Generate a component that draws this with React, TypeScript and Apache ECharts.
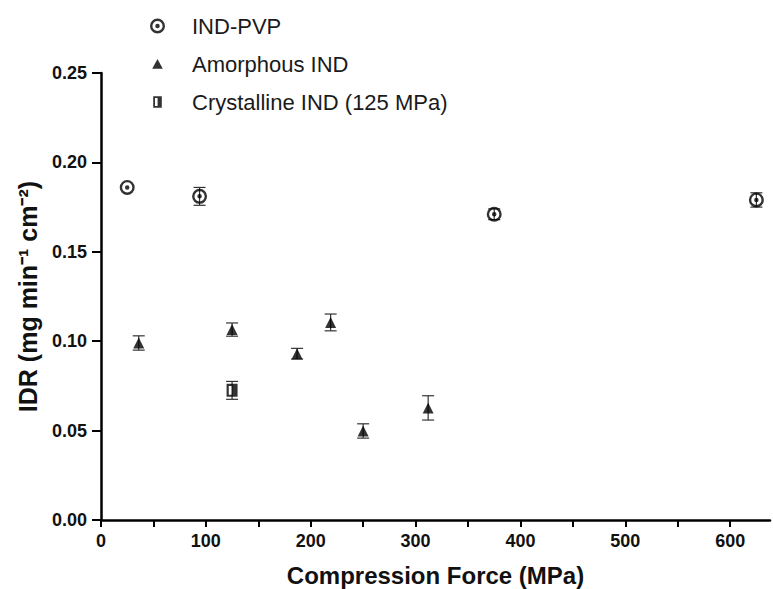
import React, { useEffect, useRef } from "react";
import * as echarts from "echarts";

const pvpX = [25, 94, 375, 625];
const pvpY = [0.186, 0.181, 0.171, 0.179];
const pvpErr = [0, 0.005, 0.003, 0.004];

const amX = [36, 125, 187, 219, 250, 312];
const amY = [0.099, 0.1065, 0.093, 0.1105, 0.0498, 0.0627];
const amErr = [0.004, 0.0037, 0.003, 0.0047, 0.004, 0.0068];

const crX = [125];
const crY = [0.0725];
const crErr = [0.005];

const xLabels = [0, 100, 200, 300, 400, 500, 600];
const xTicks = [0, 50, 100, 150, 200, 250, 300, 350, 400, 450, 500, 550, 600];

const ringDot =
  "path://M0 -10 A10 10 0 1 1 0 10 A10 10 0 1 1 0 -10 Z M0 -6.8 A6.8 6.8 0 1 0 0 6.8 A6.8 6.8 0 1 0 0 -6.8 Z M0 -3 A3 3 0 1 1 0 3 A3 3 0 1 1 0 -3 Z";
const halfSquare = "path://M0 0 H10 V12 H0 Z M2 2 V10 H5 V2 Z";
const legendTriangle = "path://M0 0 L0 0 M15 15 L15 15 M7.5 2.5 L12.8 12.3 L2.2 12.3 Z";
const legendSquare =
  "path://M0 0 L0 0 M15 15 L15 15 M3.2 1.8 H11.8 V13.2 H3.2 Z M5 3.6 V11.4 H7.6 V3.6 Z";

function errData(xs: number[], ys: number[], es: number[]) {
  return xs.map((x, i) => [x, ys[i] - es[i], ys[i] + es[i]]);
}

function errorSeries(name: string, data: number[][]) {
  return {
    type: "custom",
    name: name + "-err",
    z: 1,
    silent: true,
    renderItem: (params: any, api: any) => {
      const x = api.value(0);
      const lo = api.coord([x, api.value(1)]);
      const hi = api.coord([x, api.value(2)]);
      const hw = 6;
      if (Math.abs(hi[1] - lo[1]) < 0.5) return { type: "group", children: [] };
      const st = { stroke: "#333", lineWidth: 1.2 };
      return {
        type: "group",
        children: [
          { type: "line", shape: { x1: lo[0], y1: lo[1], x2: hi[0], y2: hi[1] }, style: st },
          { type: "line", shape: { x1: lo[0] - hw, y1: lo[1], x2: lo[0] + hw, y2: lo[1] }, style: st },
          { type: "line", shape: { x1: hi[0] - hw, y1: hi[1], x2: hi[0] + hw, y2: hi[1] }, style: st },
        ],
      };
    },
    data,
  };
}

export default function App() {
  const ref = useRef<HTMLDivElement>(null);
  useEffect(() => {
    if (!ref.current) return;
    const chart = echarts.init(ref.current, null, { renderer: "svg" });
    const font = "Liberation Sans, Arial, sans-serif";
    chart.setOption({
      animation: false,
      backgroundColor: "#fff",
      grid: {
        left: 101,
        right: 3,
        top: 73,
        bottom: 69,
        containLabel: false,
        outerBoundsMode: "none",
      },
      legend: {
        orient: "vertical",
        left: 145,
        top: 10,
        itemWidth: 15,
        itemHeight: 15,
        itemGap: 16,
        data: [
          { name: "IND-PVP", icon: ringDot },
          { name: "Amorphous IND", icon: legendTriangle },
          { name: "Crystalline IND (125 MPa)", icon: legendSquare },
        ],
        textStyle: { fontFamily: font, fontSize: 22, color: "#1a1a1a", padding: [0, 0, 0, 22] },
      },
      xAxis: {
        type: "value",
        min: 0,
        max: 638,
        interval: 100,
        name: "Compression Force (MPa)",
        nameLocation: "middle",
        nameGap: 43,
        nameTextStyle: { fontFamily: font, fontSize: 24, fontWeight: "bold", color: "#111" },
        axisLine: { show: true, onZero: false, lineStyle: { color: "#000", width: 2.5 } },
        axisTick: { show: true, customValues: xTicks, length: 7, lineStyle: { color: "#000", width: 2 } },
        axisLabel: {
          customValues: xLabels,
          fontFamily: font,
          fontSize: 18,
          fontWeight: "bold",
          color: "#111",
          margin: 12,
        },
        splitLine: { show: false },
      },
      yAxis: {
        type: "value",
        min: 0,
        max: 0.25,
        interval: 0.05,
        name: "IDR (mg min\u207B\u00B9 cm\u207B\u00B2)",
        nameLocation: "middle",
        nameGap: 61,
        nameTextStyle: { fontFamily: font, fontSize: 25, fontWeight: "bold", color: "#111" },
        axisLine: { show: true, onZero: false, lineStyle: { color: "#000", width: 2.5 } },
        axisTick: { show: true, length: 9, lineStyle: { color: "#000", width: 2 } },
        axisLabel: {
          fontFamily: font,
          fontSize: 18,
          fontWeight: "bold",
          color: "#111",
          margin: 14,
          formatter: (v: number) => v.toFixed(2),
        },
        splitLine: { show: false },
      },
      series: [
        errorSeries("IND-PVP", errData(pvpX, pvpY, pvpErr)),
        errorSeries("Amorphous IND", errData(amX, amY, amErr)),
        errorSeries("Crystalline IND (125 MPa)", errData(crX, crY, crErr)),
        {
          type: "scatter",
          name: "IND-PVP",
          symbol: ringDot,
          symbolSize: 15,
          itemStyle: { color: "#000" },
          z: 3,
          data: pvpX.map((x, i) => [x, pvpY[i]]),
        },
        {
          type: "scatter",
          name: "Amorphous IND",
          symbol: "triangle",
          symbolSize: 11,
          itemStyle: { color: "#000" },
          z: 3,
          data: amX.map((x, i) => [x, amY[i]]),
        },
        {
          type: "scatter",
          name: "Crystalline IND (125 MPa)",
          symbol: halfSquare,
          symbolSize: [11, 13],
          itemStyle: { color: "#000" },
          z: 3,
          data: crX.map((x, i) => [x, crY[i]]),
        },
      ],
    });
    return () => chart.dispose();
  }, []);
  return (
    <div
      ref={ref}
      style={{ position: "fixed", left: 0, top: 0, width: 773, height: 589, overflow: "hidden" }}
    />
  );
}
